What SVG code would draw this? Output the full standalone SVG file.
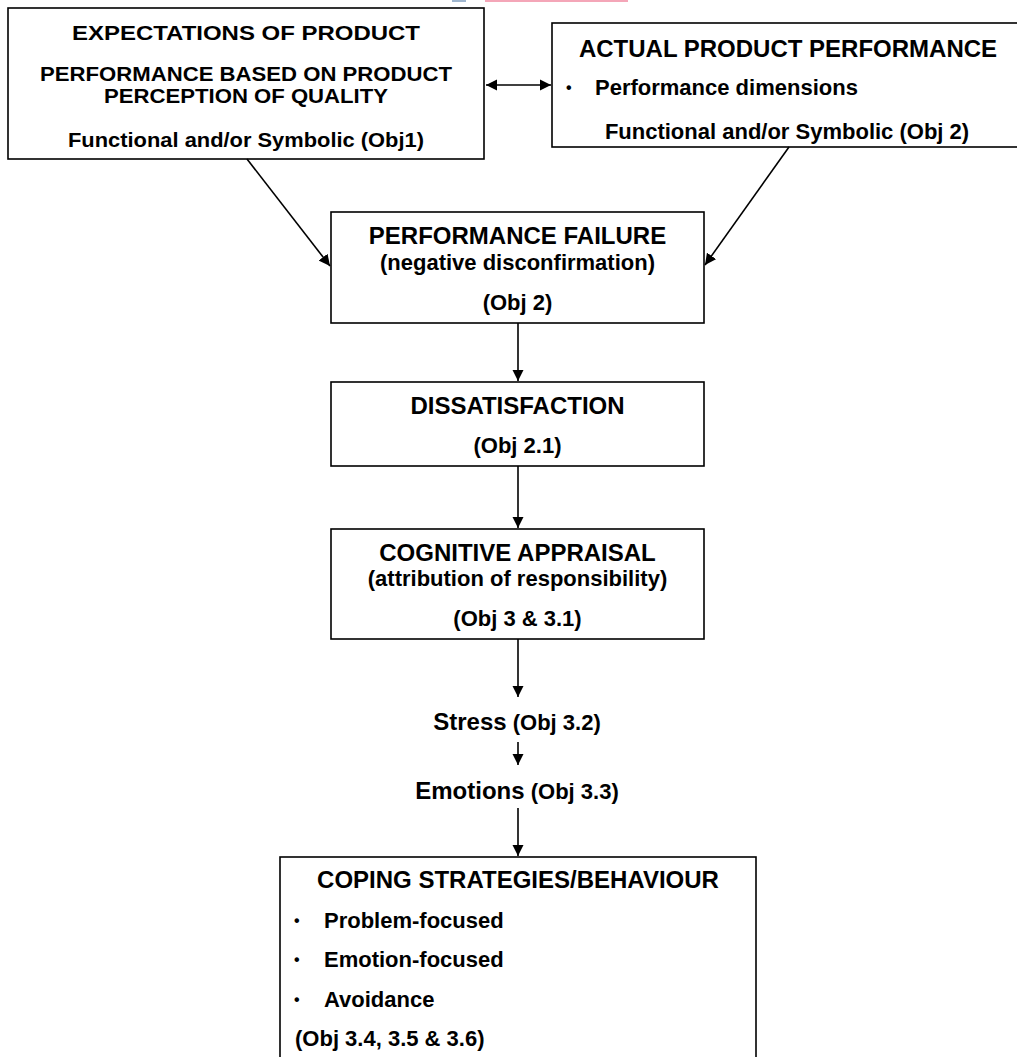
<svg xmlns="http://www.w3.org/2000/svg" width="1017" height="1057" viewBox="0 0 1017 1057">
<style>
  .box { fill: #ffffff; stroke: #000000; stroke-width: 1.6; }
  .t { font-family: "Liberation Sans", Arial, sans-serif; font-weight: bold; fill: #000000; }
  .h { font-size: 24px; }
  .b { font-size: 22px; }
  .s { font-size: 19.5px; }
  .bul { font-size: 16px; }
  .c { text-anchor: middle; }
  .conn { stroke: #000000; stroke-width: 1.6; fill: none; }
</style>
<defs>
  <marker id="ah" viewBox="0 0 10 10" refX="10" refY="5" markerWidth="7" markerHeight="7" markerUnits="strokeWidth" orient="auto-start-reverse">
    <path d="M0,0 L10,5 L0,10 Z" fill="#000000"/>
  </marker>
</defs>
<rect width="1017" height="1057" fill="#ffffff"/>
<g id="watermark">
  <rect x="485" y="0" width="143" height="2" fill="#f4a6b8"/>
  <rect x="452" y="0" width="14" height="2" fill="#9fb6cf"/>
</g>
<g id="node-expectations">
  <rect class="box" x="8" y="8" width="476" height="151"/>
  <text class="t s c" x="246" y="40" textLength="348" lengthAdjust="spacingAndGlyphs">EXPECTATIONS OF PRODUCT</text>
  <text class="t s c" x="246" y="81" textLength="412" lengthAdjust="spacingAndGlyphs">PERFORMANCE BASED ON PRODUCT</text>
  <text class="t s c" x="246" y="103" textLength="284" lengthAdjust="spacingAndGlyphs">PERCEPTION OF QUALITY</text>
  <text class="t s c" x="246" y="147" textLength="356" lengthAdjust="spacingAndGlyphs">Functional and/or Symbolic (Obj1)</text>
</g>
<g id="node-actual">
  <rect class="box" x="552" y="23" width="468" height="124"/>
  <text class="t h c" x="788" y="57">ACTUAL PRODUCT PERFORMANCE</text>
  <text class="t bul" x="566" y="93">•</text>
  <text class="t b" x="595" y="95">Performance dimensions</text>
  <text class="t b c" x="787" y="139">Functional and/or Symbolic (Obj 2)</text>
</g>
<g id="node-failure">
  <rect class="box" x="331" y="212" width="373" height="111"/>
  <text class="t h c" x="517.5" y="244">PERFORMANCE FAILURE</text>
  <text class="t b c" x="517.5" y="270">(negative disconfirmation)</text>
  <text class="t b c" x="517.5" y="310">(Obj 2)</text>
</g>
<g id="node-dissatisfaction">
  <rect class="box" x="331" y="382" width="373" height="84"/>
  <text class="t h c" x="517.5" y="414">DISSATISFACTION</text>
  <text class="t b c" x="517.5" y="453">(Obj 2.1)</text>
</g>
<g id="node-appraisal">
  <rect class="box" x="331" y="529" width="373" height="110"/>
  <text class="t h c" x="517.5" y="561">COGNITIVE APPRAISAL</text>
  <text class="t b c" x="517.5" y="586">(attribution of responsibility)</text>
  <text class="t b c" x="517.5" y="626">(Obj 3 &amp; 3.1)</text>
</g>
<g id="node-stress">
  <text class="t c" x="517" y="729.5"><tspan class="h">Stress</tspan><tspan class="b"> (Obj 3.2)</tspan></text>
</g>
<g id="node-emotions">
  <text class="t c" x="517" y="798.5"><tspan class="h">Emotions</tspan><tspan class="b"> (Obj 3.3)</tspan></text>
</g>
<g id="node-coping">
  <rect class="box" x="280" y="857" width="476" height="220"/>
  <text class="t h c" x="518" y="888">COPING STRATEGIES/BEHAVIOUR</text>
  <text class="t bul" x="294" y="926">•</text>
  <text class="t b" x="324" y="928">Problem-focused</text>
  <text class="t bul" x="294" y="965">•</text>
  <text class="t b" x="324" y="967">Emotion-focused</text>
  <text class="t bul" x="294" y="1005">•</text>
  <text class="t b" x="324" y="1007">Avoidance</text>
  <text class="t b" x="295" y="1046">(Obj 3.4, 3.5 &amp; 3.6)</text>
</g>
<g id="connectors">
  <line class="conn" x1="486" y1="85" x2="551" y2="85" marker-start="url(#ah)" marker-end="url(#ah)"/>
  <line class="conn" x1="247" y1="159" x2="330" y2="266" marker-end="url(#ah)"/>
  <line class="conn" x1="789" y1="147" x2="705" y2="265" marker-end="url(#ah)"/>
  <line class="conn" x1="518" y1="323" x2="518" y2="381" marker-end="url(#ah)"/>
  <line class="conn" x1="518" y1="466" x2="518" y2="528" marker-end="url(#ah)"/>
  <line class="conn" x1="518" y1="639" x2="518" y2="697" marker-end="url(#ah)"/>
  <line class="conn" x1="518" y1="742" x2="518" y2="765" marker-end="url(#ah)"/>
  <line class="conn" x1="518" y1="808" x2="518" y2="856" marker-end="url(#ah)"/>
</g>
</svg>
